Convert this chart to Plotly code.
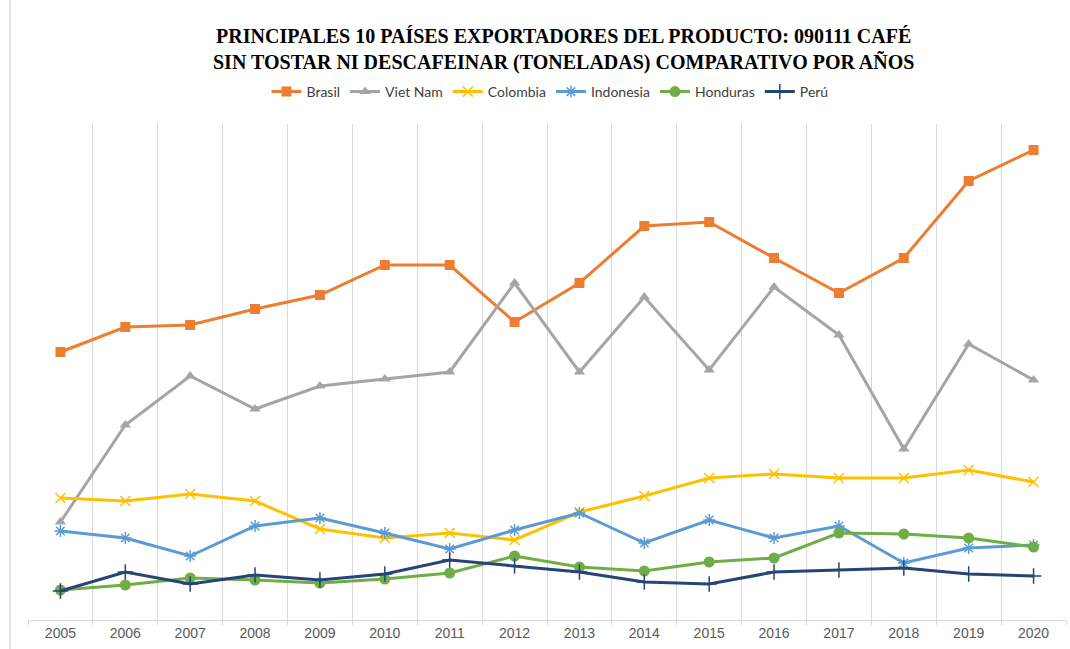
import plotly.graph_objects as go

years = [str(y) for y in range(2005, 2021)]

brasil = [1340000, 1465000, 1475000, 1555000, 1625000, 1775000, 1775000, 1490000,
          1685000, 1970000, 1990000, 1810000, 1635000, 1810000, 2195000, 2350000]
viet_nam = [490000, 975000, 1220000, 1055000, 1170000, 1205000, 1240000, 1685000,
            1240000, 1615000, 1250000, 1665000, 1425000, 855000, 1380000, 1200000]
colombia = [610000, 595000, 630000, 595000, 455000, 410000, 435000, 400000,
            540000, 620000, 710000, 730000, 710000, 710000, 750000, 690000]
indonesia = [445000, 410000, 320000, 470000, 510000, 435000, 355000, 450000,
             535000, 385000, 500000, 410000, 470000, 285000, 360000, 375000]
honduras = [150000, 175000, 210000, 200000, 185000, 205000, 235000, 320000,
            265000, 245000, 290000, 310000, 435000, 430000, 410000, 365000]
peru = [145000, 240000, 180000, 225000, 200000, 230000, 300000, 270000,
        240000, 190000, 180000, 240000, 250000, 260000, 230000, 220000]

title_lines = ["PRINCIPALES 10 PAÍSES EXPORTADORES DEL PRODUCTO: 090111 CAFÉ",
               "SIN TOSTAR NI DESCAFEINAR (TONELADAS) COMPARATIVO POR AÑOS"]

series = [
    ("Brasil", brasil, "#ED7D31", dict(symbol="square", size=10)),
    ("Viet Nam", viet_nam, "#A5A5A5", dict(symbol="triangle-up", size=10)),
    ("Colombia", colombia, "#FFC000", dict(symbol="x-thin-open", size=10, line=dict(width=1.5, color="#FFC000"))),
    ("Indonesia", indonesia, "#5B9BD5", dict(symbol="asterisk-open", size=10, line=dict(width=1.5, color="#5B9BD5"))),
    ("Honduras", honduras, "#70AD47", dict(symbol="circle", size=11)),
    ("Perú", peru, "#264478", dict(symbol="cross-thin-open", size=11, line=dict(width=1.5, color="#264478"))),
]

fig = go.Figure()
for name, vals, color, marker in series:
    m = dict(color=color)
    m.update(marker)
    fig.add_trace(go.Scatter(x=years, y=vals, name=name, mode="lines+markers",
                             line=dict(color=color, width=3), marker=m))

W, H = 1070, 649
left, right, top, bottom = 28, 4, 124, 29
pw, ph = W - left - right, H - top - bottom


def px_x(x):
    return (x - left) / pw


def px_y(y):
    return (H - bottom - y) / ph


fig.update_layout(
    width=W, height=H,
    margin=dict(l=left, r=right, t=top, b=bottom, pad=0),
    paper_bgcolor="white", plot_bgcolor="white",
    legend=dict(orientation="h", x=px_x(550), xanchor="center",
                y=px_y(92), yanchor="middle",
                font=dict(family="Lato", size=14, color="#404040"),
                itemwidth=30, tracegroupgap=0),
    showlegend=True,
    xaxis=dict(type="category", tickson="boundaries", showgrid=True, gridcolor="#D9D9D9", gridwidth=1,
               showline=True, linecolor="#D9D9D9", linewidth=1,
               ticks="outside", ticklen=4, tickcolor="#D9D9D9",
               tickfont=dict(family="Liberation Sans", size=14, color="#595959"),
               range=[-0.5, 15.5], fixedrange=True),
    yaxis=dict(range=[0, 2480000], visible=False, showgrid=False, zeroline=False, fixedrange=True),
)

fig.add_annotation(text="<br>".join(title_lines), xref="paper", yref="paper", x=px_x(563), y=px_y(49),
                   xanchor="center", yanchor="middle", showarrow=False, align="center",
                   font=dict(family="Liberation Serif", size=20, color="#000000", weight="bold"))

fig.add_shape(type="line", xref="paper", yref="paper",
              x0=px_x(10), x1=px_x(10), y0=1.3, y1=-0.1, line=dict(color="#D9D9D9", width=1.5))

fig.write_html("out.html", config={"displayModeBar": False},
               post_script="document.body.style.margin='0';document.body.style.padding='0';")
